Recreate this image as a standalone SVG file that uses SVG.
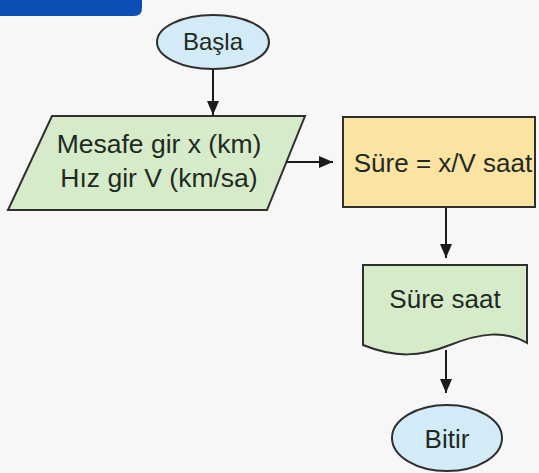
<svg xmlns="http://www.w3.org/2000/svg" width="539" height="473" viewBox="0 0 539 473">
<style>
.shape{stroke:#2f2f2f;stroke-width:2}
.term{fill:#d3ebf7}
.io{fill:#d6ebc9}
.proc{fill:#fbe3a2}
.lbl{font-family:"Liberation Sans",Arial,sans-serif;fill:#1f2a22;text-anchor:middle}
.conn{stroke:#1a1a1a;stroke-width:2;fill:none}
</style>
<defs>
<marker id="ah2" viewBox="0 0 14 12" refX="14" refY="6" markerWidth="14" markerHeight="12" markerUnits="userSpaceOnUse" orient="auto">
<path d="M0,0 L14,6 L0,12 z" fill="#1a1a1a"/>
</marker>
</defs>
<rect width="539" height="473" fill="#f7f7f7"/>
<g id="tab">
<path d="M0,0 H142 V8 Q142,16 134,16 H0 z" fill="#0c4fb5"/>
</g>
<g id="connectors">
<line class="conn" x1="213" y1="69" x2="213" y2="115" marker-end="url(#ah2)"/>
<line class="conn" x1="287" y1="162" x2="333" y2="162" marker-end="url(#ah2)"/>
<line class="conn" x1="446" y1="207" x2="446" y2="258" marker-end="url(#ah2)"/>
<line class="conn" x1="446" y1="350" x2="446" y2="393" marker-end="url(#ah2)"/>
</g>
<g id="start">
<ellipse class="shape term" cx="213" cy="42" rx="56" ry="27"/>
<text class="lbl" x="213" y="50" font-size="24">Başla</text>
</g>
<g id="input">
<polygon class="shape io" points="52,116 305,116 267,210 8,210"/>
<text class="lbl" x="159" y="153" font-size="26.5">Mesafe gir x (km)</text>
<text class="lbl" x="159" y="187" font-size="26.5">Hız gir V (km/sa)</text>
</g>
<g id="process">
<rect class="shape proc" x="343" y="117" width="192" height="90"/>
<text class="lbl" x="443" y="172" font-size="26">Süre = x/V saat</text>
</g>
<g id="output">
<path class="shape io" d="M363,265 H527 V343 C505,330 480,333 450,345 C420,357 395,358 363,345 z"/>
<text class="lbl" x="445" y="308" font-size="26">Süre saat</text>
</g>
<g id="end">
<ellipse class="shape term" cx="447" cy="438" rx="55" ry="33"/>
<text class="lbl" x="447" y="448" font-size="26">Bitir</text>
</g>
</svg>
